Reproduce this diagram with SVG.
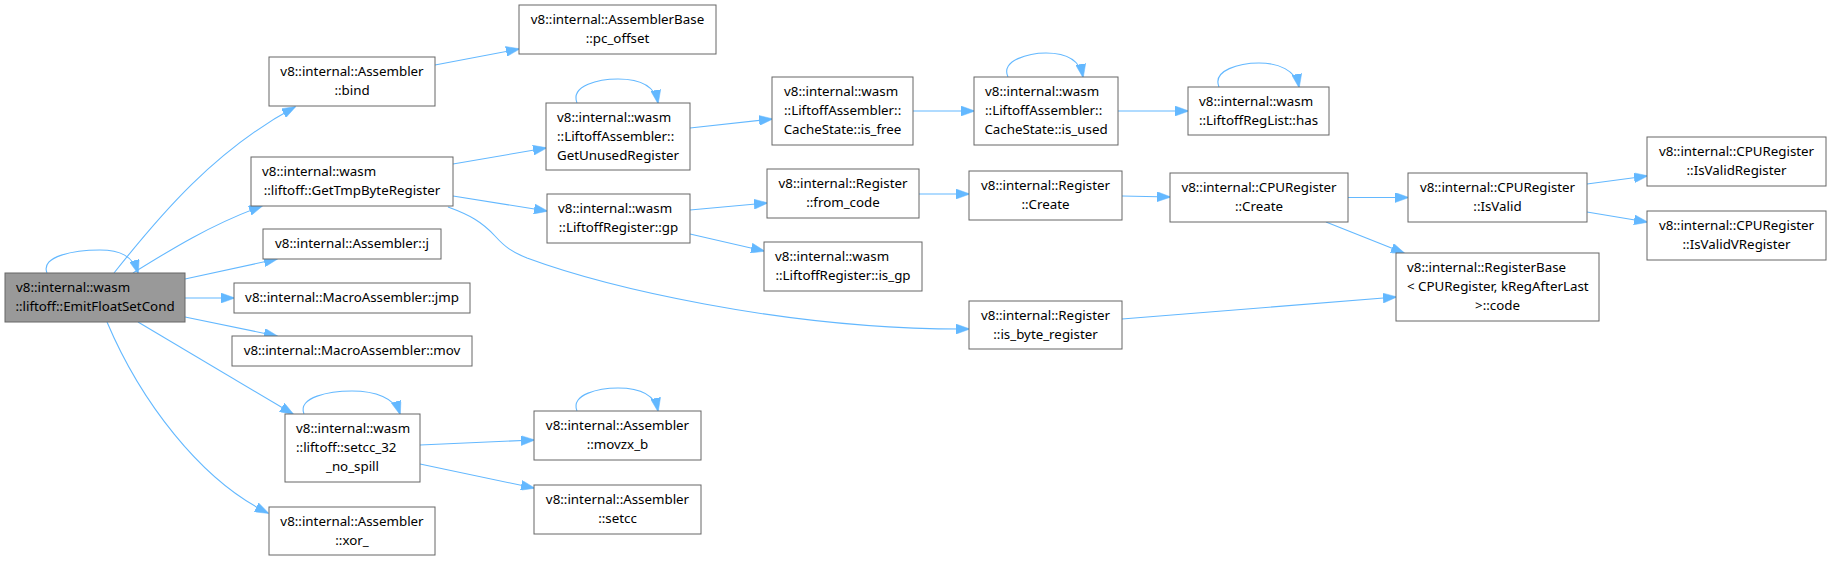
<svg xmlns="http://www.w3.org/2000/svg" width="1831" height="561" viewBox="0 0 1831 561">
<style>
.n rect{fill:#ffffff;stroke:#666666;stroke-width:1}
.n.root rect{fill:#999999}
text{font-family:"Noto Sans","DejaVu Sans",sans-serif;font-size:13.33px;fill:#000}
.c{text-anchor:middle}
.e path{fill:none;stroke:#63b8ff;stroke-width:1.1;marker-end:url(#ah)}
</style>
<defs>
<marker id="ah" markerWidth="14" markerHeight="10" refX="13" refY="5" orient="auto" markerUnits="userSpaceOnUse">
<path d="M0,0 L14,5 L0,10 z" fill="#63b8ff" stroke="#63b8ff" stroke-width="0.5"/>
</marker>
</defs>
<rect width="1831" height="561" fill="#ffffff"/>
<g class="e" id="edges">
<path d="M47,273 C40,256 75,250 100,250 C120,250 133,256 138,273"/>
<path d="M114,273 C160,215 215,150 295,107"/>
<path d="M133,273 C170,250 210,225 262,206"/>
<path d="M185,279 L277,259"/>
<path d="M185,298 L234,298"/>
<path d="M185,317 L277,336"/>
<path d="M138,322 L293,414"/>
<path d="M107,322 C140,400 200,480 268,513"/>
<path d="M435,65 L519,49"/>
<path d="M453,164 L546,148"/>
<path d="M453,196 L547,211"/>
<path d="M448,207 C470,215 482,222 495,236 C505,247 512,252 527,258 C600,285 780,330 969,329"/>
<path d="M577,103 C570,85 600,79 618,79 C640,79 655,86 658,103"/>
<path d="M690,128 L772,119"/>
<path d="M690,210 L767,203"/>
<path d="M690,234 L764,251"/>
<path d="M913,111 L974,111"/>
<path d="M1008,77 C1000,60 1030,53 1046,53 C1066,53 1080,60 1083,77"/>
<path d="M1118,111 L1188,111"/>
<path d="M1219,87 C1212,70 1240,63 1259,63 C1278,63 1296,70 1299,87"/>
<path d="M919,194 L969,194"/>
<path d="M1122,196 L1170,197"/>
<path d="M1348,197.5 L1408,197.5"/>
<path d="M1326,222 L1404,253"/>
<path d="M1587,184 L1647,176"/>
<path d="M1587,212 L1647,222"/>
<path d="M1122,319 L1396,297"/>
<path d="M304,414 C297,397 330,391 352,391 C375,391 395,398 400,414"/>
<path d="M420,445 L534,440"/>
<path d="M420,464 L534,488"/>
<path d="M577,411 C570,394 600,388 618,388 C640,388 655,395 658,411"/>
</g>
<g class="n root" id="n_emit"><rect x="5" y="273" width="180" height="49"/><text x="16" y="292">v8::internal::wasm</text><text x="95" y="311" class="c">::liftoff::EmitFloatSetCond</text></g>
<g class="n" id="n_bind"><rect x="269" y="57" width="166" height="49"/><text x="352" y="76" class="c">v8::internal::Assembler</text><text x="352" y="95" class="c">::bind</text></g>
<g class="n" id="n_pcoffset"><rect x="519" y="5" width="197" height="49"/><text x="617.5" y="24" class="c">v8::internal::AssemblerBase</text><text x="617.5" y="43" class="c">::pc_offset</text></g>
<g class="n" id="n_tmp"><rect x="251" y="157" width="202" height="49"/><text x="262" y="176">v8::internal::wasm</text><text x="352" y="195" class="c">::liftoff::GetTmpByteRegister</text></g>
<g class="n" id="n_j"><rect x="263" y="229" width="178" height="30"/><text x="352" y="248" class="c">v8::internal::Assembler::j</text></g>
<g class="n" id="n_jmp"><rect x="234" y="283" width="236" height="30"/><text x="352" y="302" class="c">v8::internal::MacroAssembler::jmp</text></g>
<g class="n" id="n_mov"><rect x="232" y="336" width="240" height="30"/><text x="352" y="355" class="c">v8::internal::MacroAssembler::mov</text></g>
<g class="n" id="n_setcc32"><rect x="285" y="414" width="135" height="68"/><text x="296" y="433">v8::internal::wasm</text><text x="296" y="452">::liftoff::setcc_32</text><text x="352.5" y="471" class="c">_no_spill</text></g>
<g class="n" id="n_xor"><rect x="269" y="507" width="166" height="48"/><text x="352" y="526" class="c">v8::internal::Assembler</text><text x="352" y="545" class="c">::xor_</text></g>
<g class="n" id="n_unused"><rect x="546" y="103" width="144" height="67"/><text x="557" y="122">v8::internal::wasm</text><text x="557" y="141">::LiftoffAssembler::</text><text x="618" y="160" class="c">GetUnusedRegister</text></g>
<g class="n" id="n_gp"><rect x="547" y="194" width="143" height="49"/><text x="558" y="213">v8::internal::wasm</text><text x="618.5" y="232" class="c">::LiftoffRegister::gp</text></g>
<g class="n" id="n_movzx"><rect x="534" y="411" width="167" height="49"/><text x="617.5" y="430" class="c">v8::internal::Assembler</text><text x="617.5" y="449" class="c">::movzx_b</text></g>
<g class="n" id="n_setcc"><rect x="534" y="485" width="167" height="49"/><text x="617.5" y="504" class="c">v8::internal::Assembler</text><text x="617.5" y="523" class="c">::setcc</text></g>
<g class="n" id="n_isfree"><rect x="772" y="77" width="141" height="68"/><text x="784" y="96">v8::internal::wasm</text><text x="784" y="115">::LiftoffAssembler::</text><text x="842.5" y="134" class="c">CacheState::is_free</text></g>
<g class="n" id="n_fromcode"><rect x="767" y="169" width="152" height="49"/><text x="843" y="188" class="c">v8::internal::Register</text><text x="843" y="207" class="c">::from_code</text></g>
<g class="n" id="n_isgp"><rect x="764" y="242" width="158" height="49"/><text x="775" y="261">v8::internal::wasm</text><text x="843" y="280" class="c">::LiftoffRegister::is_gp</text></g>
<g class="n" id="n_isused"><rect x="974" y="77" width="144" height="68"/><text x="985" y="96">v8::internal::wasm</text><text x="985" y="115">::LiftoffAssembler::</text><text x="1046" y="134" class="c">CacheState::is_used</text></g>
<g class="n" id="n_regcreate"><rect x="969" y="171" width="153" height="49"/><text x="1045.5" y="190" class="c">v8::internal::Register</text><text x="1045.5" y="209" class="c">::Create</text></g>
<g class="n" id="n_isbyte"><rect x="969" y="301" width="153" height="48"/><text x="1045.5" y="320" class="c">v8::internal::Register</text><text x="1045.5" y="339" class="c">::is_byte_register</text></g>
<g class="n" id="n_has"><rect x="1188" y="87" width="141" height="48"/><text x="1199" y="106">v8::internal::wasm</text><text x="1258.5" y="125" class="c">::LiftoffRegList::has</text></g>
<g class="n" id="n_cpucreate"><rect x="1170" y="173" width="178" height="49"/><text x="1259" y="192" class="c">v8::internal::CPURegister</text><text x="1259" y="211" class="c">::Create</text></g>
<g class="n" id="n_isvalid"><rect x="1408" y="173" width="179" height="49"/><text x="1497.5" y="192" class="c">v8::internal::CPURegister</text><text x="1497.5" y="211" class="c">::IsValid</text></g>
<g class="n" id="n_code"><rect x="1396" y="253" width="203" height="68"/><text x="1407" y="272">v8::internal::RegisterBase</text><text x="1407" y="291">&lt; CPURegister, kRegAfterLast</text><text x="1497.5" y="310" class="c">&gt;::code</text></g>
<g class="n" id="n_isvalidreg"><rect x="1647" y="137" width="179" height="49"/><text x="1736.5" y="156" class="c">v8::internal::CPURegister</text><text x="1736.5" y="175" class="c">::IsValidRegister</text></g>
<g class="n" id="n_isvalidvreg"><rect x="1647" y="211" width="179" height="49"/><text x="1736.5" y="230" class="c">v8::internal::CPURegister</text><text x="1736.5" y="249" class="c">::IsValidVRegister</text></g>
</svg>
